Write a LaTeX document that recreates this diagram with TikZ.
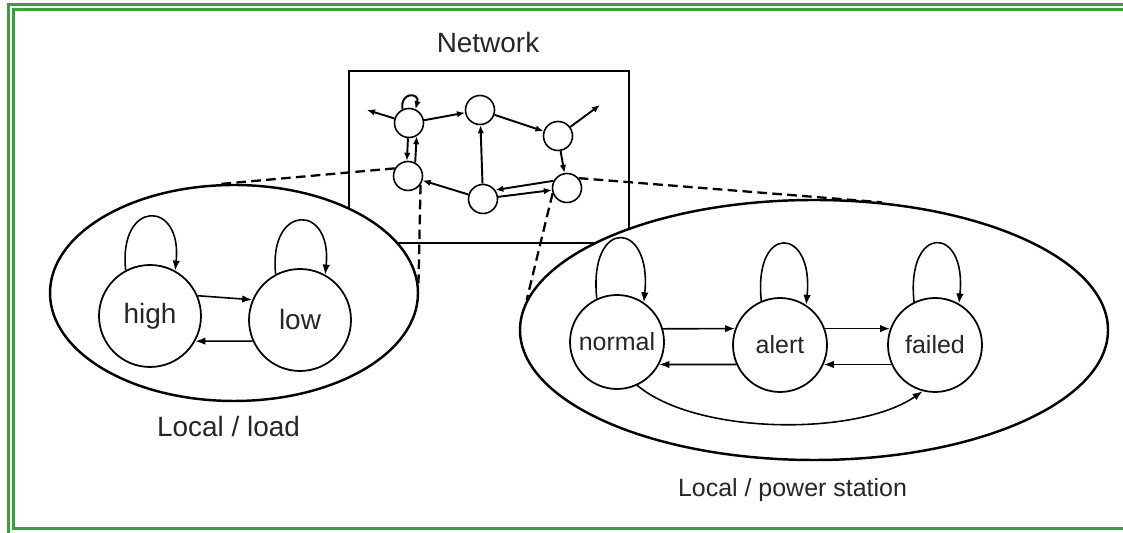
\documentclass[tikz,border=0pt]{standalone}
\usepackage{fontspec}
\setmainfont{Liberation Sans}
\usetikzlibrary{shapes.geometric,arrows.meta}
\definecolor{framegreen}{RGB}{58,160,58}

\begin{document}
\begin{tikzpicture}[
    bigstate/.style={draw, circle, line width=1pt, inner sep=0pt, minimum size=2.04cm, text=black!85, font=\fontsize{15.9}{18}\selectfont},
    smallstate/.style={draw, circle, line width=1pt, inner sep=0pt, minimum size=1.88cm, text=black!85, font=\fontsize{14.2}{17}\selectfont},
    netnode/.style={draw, circle, line width=0.9pt, inner sep=0pt, minimum size=0.58cm},
    region/.style={draw, ellipse, line width=1.4pt, fill=white, inner sep=0pt},
    trans/.style={-{Latex[length=2mm,width=1.5mm]}, line width=0.9pt},
    netarrow/.style={-{Latex[length=1.6mm,width=1.3mm]}, line width=1.1pt},
    link/.style={line width=1.3pt, dash pattern=on 5.5pt off 3pt},
    selfloop/.style={trans, out=96, in=84},
    caption/.style={anchor=base, text=black!85},
  ]
  \useasboundingbox (0,0) rectangle (22.46,10.66);
  % frame
  \draw[framegreen, line width=0.05cm] (0.17,-1) rectangle (23,10.57);
  \draw[framegreen, line width=0.06cm] (0.27,0.09) rectangle (23,10.47);
  % network
  \draw[line width=0.7pt] (6.98,5.8) rectangle (12.58,9.24);
  \node[caption, font=\fontsize{15.9}{18}\selectfont] (nettitle) at (9.76,9.6) {Network};
  \node[netnode] (n1) at (8.18,8.20) {};
  \node[netnode] (n2) at (9.60,8.46) {};
  \node[netnode] (n3) at (11.16,7.94) {};
  \node[netnode] (n4) at (8.16,7.14) {};
  \node[netnode] (n5) at (9.66,6.68) {};
  \node[netnode] (n6) at (11.34,6.90) {};
  \coordinate (w1) at (7.34,8.46);
  \coordinate (e1) at (12.00,8.56);
  \draw[netarrow] (n1) -- (w1);
  \draw[netarrow] (n1.115) to[out=100,in=75,looseness=3.5] (n1.65);
  \draw[netarrow] (n1) -- (n2);
  \draw[netarrow] (n1.-94) -- (n4.94);
  \draw[netarrow] (n4.62) -- (n1.-60);
  \draw[netarrow] (n2) -- (n3);
  \draw[netarrow] (n3) -- (e1);
  \draw[netarrow] (n3) -- (n6);
  \draw[netarrow] (n5) -- (n2);
  \draw[netarrow] (n5) -- (n4);
  \draw[netarrow] (n6.152) -- (n5.36);
  \draw[netarrow] (n5.8) -- (n6.188);
  % local / load
  \node[region, minimum width=7.36cm, minimum height=4.32cm] (lload) at (4.68,4.8) {};
  \node[bigstate] (high) at (3.00,4.34) {high};
  \node[bigstate] (low) at (6.00,4.26) {low};
  \draw[trans] (high.23) -- (low.157);
  \draw[trans] (low.-156) -- (high.-29);
  \draw[selfloop, looseness=3.7] (high.118) to (high.61);
  \draw[selfloop, looseness=3.7] (low.118) to (low.61);
  \node[caption, font=\fontsize{15.9}{18}\selectfont] (loadlabel) at (4.57,1.92) {Local / load};
  % local / power station
  \node[region, minimum width=11.76cm, minimum height=5.2cm] (pstation) at (16.28,4.06) {};
  \node[smallstate] (normal) at (12.34,3.82) {normal};
  \node[smallstate] (alert) at (15.60,3.76) {alert};
  \node[smallstate] (failed) at (18.70,3.76) {failed};
  \draw[trans] (normal.16) -- (alert.160);
  \draw[trans] (alert.-156) -- (normal.-28);
  \draw[trans] (alert.20) -- (failed.160);
  \draw[trans] (failed.-156) -- (alert.-24);
  \draw[selfloop, looseness=4.5] (normal.115) to (normal.56);
  \draw[selfloop, looseness=4.5] (alert.113) to (alert.57);
  \draw[selfloop, looseness=4.5] (failed.116) to (failed.60);
  \draw[trans] (normal.-65) to[out=-40,in=-145,looseness=0.7] (failed.-105);
  \node[caption, font=\fontsize{14.2}{17}\selectfont] (stationlabel) at (15.85,0.72) {Local / power station};
  % links
  \draw[link] (n4.150) -- (lload.98);
  \draw[link] (n4.-35) -- (lload.3);
  \draw[link] (n6.40) -- (pstation.62);
  \draw[link] (n6.200) -- (pstation.174);
\end{tikzpicture}
\end{document}
